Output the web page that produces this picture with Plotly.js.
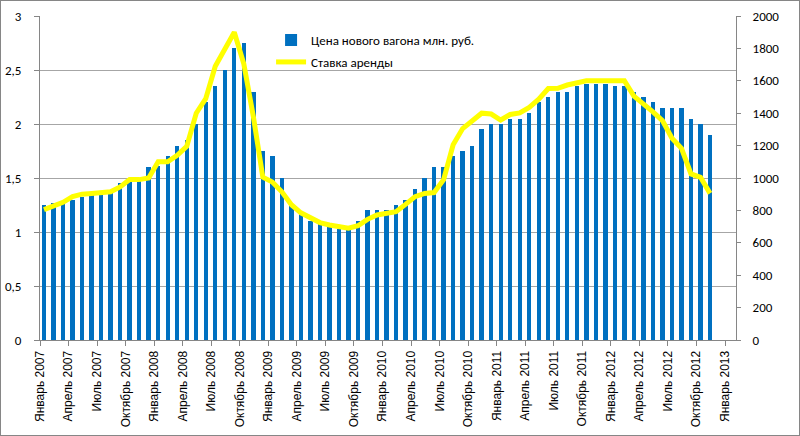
<!DOCTYPE html>
<html>
<head>
<meta charset="utf-8">
<script src="https://cdn.plot.ly/plotly-3.0.1.min.js"></script>
<style>
  html, body { margin: 0; padding: 0; background: #fff; }
  #frame { width: 800px; height: 436px; box-sizing: border-box; border: 1px solid #868686; }
  #chart { width: 798px; height: 434px; }
</style>
</head>
<body>
<div id="frame"><div id="chart"></div></div>
<script>
// Month names for tick labels
const monthNames = ['Январь', 'Апрель', 'Июль', 'Октябрь'];
const firstYear = 2007;
const lastTickYear = 2013;

// Series names
const barName = 'Цена нового вагона млн. руб.';
const lineName = 'Ставка аренды';

// Monthly values from January 2007 to November 2012
const wagonPrice = [
  1.25, 1.27, 1.26, 1.30, 1.32, 1.34, 1.35, 1.36, 1.45, 1.47, 1.47, 1.60,
  1.61, 1.70, 1.80, 1.85, 2.00, 2.20, 2.35, 2.50, 2.70, 2.75, 2.30, 1.75,
  1.70, 1.50, 1.25, 1.18, 1.10, 1.07, 1.05, 1.03, 1.02, 1.10, 1.20, 1.20,
  1.20, 1.25, 1.30, 1.40, 1.50, 1.60, 1.60, 1.70, 1.75, 1.80, 1.95, 2.00,
  2.00, 2.05, 2.05, 2.10, 2.20, 2.25, 2.30, 2.30, 2.35, 2.37, 2.37, 2.37,
  2.35, 2.35, 2.30, 2.25, 2.20, 2.15, 2.15, 2.15, 2.05, 2.00, 1.90
];
const rentRate = [
  805, 825, 850, 885, 900, 905, 910, 915, 945, 990, 990, 1000,
  1100, 1100, 1140, 1195, 1400, 1490, 1690, 1800, 1900, 1705, 1380, 1005,
  975, 915, 835, 785, 755, 725, 710, 700, 690, 705, 745, 772,
  780, 792, 837, 885, 905, 910, 990, 1205, 1305, 1355, 1400, 1395,
  1358, 1392, 1402, 1436, 1486, 1552, 1554, 1574, 1590, 1600, 1600, 1600,
  1600, 1600, 1505, 1460, 1408, 1354, 1245, 1183, 1025, 1004, 905
];

// Month index positions (month k occupies interval [k, k+1])
const xPos = wagonPrice.map((_, k) => k + 0.42);

// Quarterly tick labels
const tickVals = [];
const tickText = [];
for (let y = firstYear; y <= lastTickYear; y++) {
  for (let q = 0; q < 4; q++) {
    if (y === lastTickYear && q > 0) break;
    tickVals.push((y - firstYear) * 12 + q * 3);
    tickText.push(monthNames[q] + ' ' + y);
  }
}

const baseFont = 'Calibri, Carlito, "Liberation Sans", Arial, sans-serif';

const traces = [
  {
    type: 'bar',
    name: barName,
    legendgroup: 'a',
    x: xPos,
    y: wagonPrice,
    width: 0.46,
    marker: { color: '#0070C0', line: { width: 0 } },
    yaxis: 'y',
    hoverinfo: 'skip'
  },
  {
    type: 'scatter',
    mode: 'lines',
    name: lineName,
    legendgroup: 'b',
    x: xPos,
    y: rentRate,
    line: { color: '#FFFF00', width: 5 },
    yaxis: 'y2',
    hoverinfo: 'skip'
  }
];

const layout = {
  width: 798,
  height: 434,
  margin: { l: 39, r: 63, t: 15, b: 95 },
  paper_bgcolor: '#ffffff',
  plot_bgcolor: '#ffffff',
  separators: ', ',
  font: { family: baseFont, size: 13, color: '#000000' },
  showlegend: true,
  legend: {
    x: 0.332, y: 0.972, xanchor: 'left', yanchor: 'top',
    bgcolor: 'rgba(0,0,0,0)',
    font: { family: baseFont, size: 13, color: '#000000' },
    itemwidth: 30,
    traceorder: 'grouped',
    tracegroupgap: 2
  },
  xaxis: {
    range: [0, 73.15],
    tickmode: 'array',
    tickvals: tickVals,
    ticktext: tickText,
    tickangle: -90,
    ticks: 'outside',
    ticklen: 5,
    tickcolor: '#868686',
    showline: true,
    linecolor: '#868686',
    linewidth: 1,
    showgrid: false,
    zeroline: false,
    tickfont: { family: '"Liberation Sans", Arial, sans-serif', size: 12, color: '#000000' },
    fixedrange: true
  },
  yaxis: {
    range: [0, 3],
    dtick: 0.5,
    tick0: 0,
    ticks: 'outside',
    ticklen: 5,
    tickcolor: '#868686',
    showline: true,
    linecolor: '#868686',
    linewidth: 1,
    showgrid: true,
    gridcolor: '#a6a6a6',
    gridwidth: 1,
    zeroline: false,
    ticklabelstandoff: 10,
    tickfont: { family: baseFont, size: 13, color: '#000000' },
    fixedrange: true
  },
  yaxis2: {
    overlaying: 'y',
    side: 'right',
    range: [0, 2000],
    dtick: 200,
    tick0: 0,
    ticks: 'outside',
    ticklen: 4,
    tickcolor: '#868686',
    showline: true,
    linecolor: '#868686',
    linewidth: 1,
    showgrid: false,
    zeroline: false,
    ticklabelstandoff: 9,
    tickfont: { family: baseFont, size: 13, color: '#000000' },
    fixedrange: true
  },
  bargap: 0
};

Plotly.newPlot('chart', traces, layout, { staticPlot: true, displayModeBar: false });
</script>
</body>
</html>
